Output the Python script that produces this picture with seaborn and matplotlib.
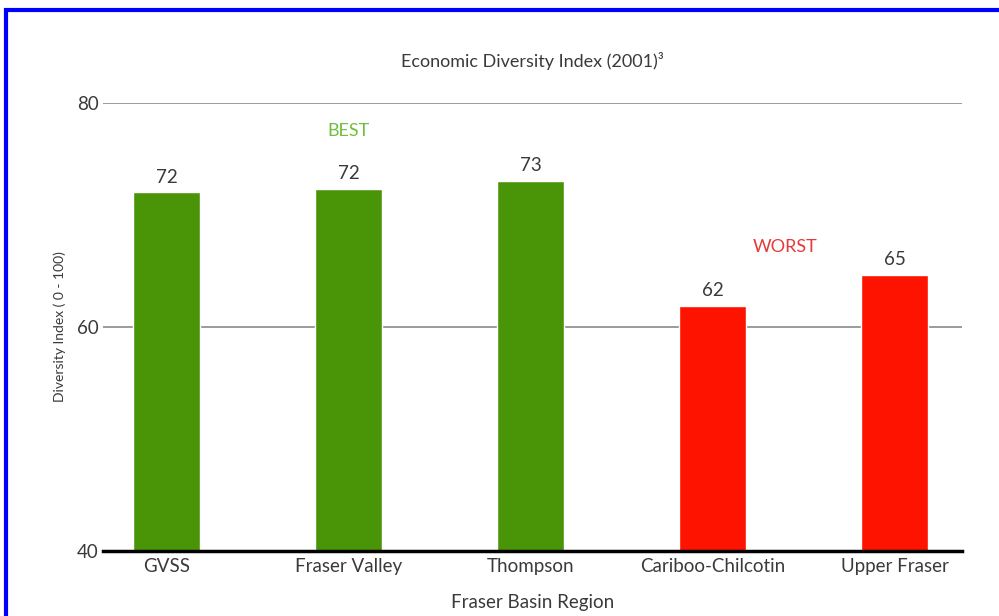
import pandas as pd
import matplotlib.pyplot as plt
import seaborn as sns
from matplotlib.patches import Rectangle

# Chart values
regions = ['GVSS', 'Fraser Valley', 'Thompson', 'Cariboo-Chilcotin', 'Upper Fraser']
index_values = [72.0, 72.3, 73.0, 61.9, 64.6]
value_labels = ['72', '72', '73', '62', '65']
rank_group = ['best', 'best', 'best', 'worst', 'worst']

df = pd.DataFrame({'region': regions, 'index': index_values, 'group': rank_group})

green = '#4a9408'
red = '#fe1200'
text_grey = '#3a3a3a'

sns.set_style('white')
plt.rcParams['font.family'] = ['Lato', 'DejaVu Sans']

fig = plt.figure(figsize=(9.99, 6.16), dpi=100)
ax = fig.add_axes([0.103, 0.1055, 0.86, 0.7275])

sns.barplot(data=df, x='region', y='index', hue='region',
            palette=[green if g == 'best' else red for g in rank_group],
            width=0.37, legend=False, ax=ax, saturation=1)

ax.set_ylim(40, 80)
ax.set_xlim(-0.35, 4.37)
ax.set_yticks([40, 60, 80])
ax.grid(axis='y', color='#8a8a8a', linewidth=1.2)
ax.set_axisbelow(True)
for s in ['top', 'right', 'left']:
    ax.spines[s].set_visible(False)
ax.spines['bottom'].set_color('black')
ax.spines['bottom'].set_linewidth(2.5)
ax.tick_params(axis='both', length=0, labelsize=13.5, colors=text_grey)
ax.tick_params(axis='y', pad=3)
ax.tick_params(axis='x', pad=5)

# value labels on top of bars (one container per hue level)
for cont, lab in zip(ax.containers, value_labels):
    ax.bar_label(cont, labels=[lab], padding=5, fontsize=13.5, color=text_grey)

ax.text(1, 77.5, 'BEST', color='#6fbf3a', fontsize=13, ha='center', va='center')
ax.text(3.4, 67.1, 'WORST', color='#e8383b', fontsize=13, ha='center', va='center')

ax.set_xlabel('Fraser Basin Region', fontsize=13.5, color=text_grey, labelpad=14)
ax.set_ylabel('Diversity Index ( 0 - 100)', fontsize=10, color=text_grey, labelpad=8)
ax.set_title('Economic Diversity Index (2001)³', fontsize=13, color=text_grey, pad=26)

# blue frame around the picture
fig.patches.append(Rectangle((0.0065, -0.05), 1.1, 1.033, transform=fig.transFigure,
                             fill=False, edgecolor='#0000ff', linewidth=3))

fig.savefig('out.png', dpi=100, facecolor='white')
